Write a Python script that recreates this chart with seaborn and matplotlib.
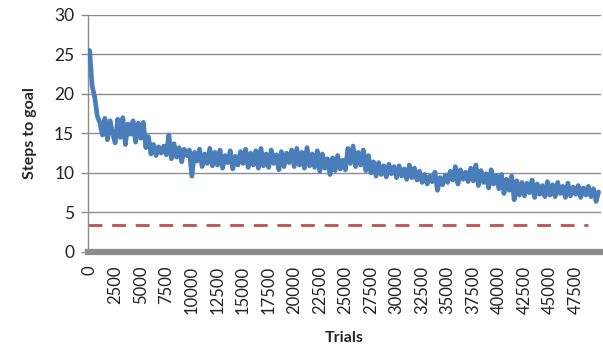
import matplotlib
matplotlib.use("Agg")
import matplotlib.pyplot as plt
import seaborn as sns
import numpy as np
import pandas as pd

# Steps to goal, one value per 250 trials
steps = [
    25.5, 21.0, 19.6, 17.2, 16.4, 14.8, 16.9, 14.2, 16.6, 15.0,
    13.8, 16.8, 14.5, 17.0, 13.6, 16.2, 14.9, 16.6, 13.9, 16.3,
    14.4, 16.4, 13.2, 14.6, 12.4, 13.6, 12.2, 13.3, 12.5, 13.4,
    12.3, 14.8, 11.8, 13.7, 12.0, 13.2, 11.4, 13.0, 12.2, 12.9,
    9.6, 12.6, 11.5, 13.0, 10.8, 12.4, 11.2, 13.1, 10.9, 12.6,
    11.0, 12.9, 10.6, 12.2, 11.3, 12.8, 10.5, 12.1, 11.0, 12.7,
    11.2, 13.0, 10.7, 12.5, 11.0, 12.8, 10.6, 13.1, 10.9, 12.4,
    10.7, 12.9, 11.2, 12.3, 10.4, 12.7, 10.8, 12.5, 11.3, 12.9,
    10.8, 13.1, 11.0, 12.6, 10.6, 13.2, 10.9, 12.4, 10.7, 12.8,
    10.2, 12.4, 10.6, 11.8, 9.8, 11.9, 10.3, 12.2, 10.5, 11.6,
    10.4, 13.1, 11.2, 13.4, 10.8, 12.6, 11.0, 12.9, 10.3, 12.2,
    10.0, 11.4, 9.6, 11.3, 9.8, 10.9, 9.5, 11.1, 9.9, 10.8,
    9.4, 10.9, 9.6, 10.5, 9.2, 11.0, 9.4, 10.6, 9.1, 10.2,
    8.8, 9.8, 8.6, 9.6, 8.9, 10.1, 7.8, 9.4, 8.5, 9.7,
    8.8, 10.2, 9.1, 10.8, 8.6, 10.4, 9.2, 10.1, 8.9, 10.6,
    9.0, 11.0, 8.4, 10.3, 8.8, 9.9, 8.1, 10.4, 8.6, 9.7,
    8.0, 9.8, 7.4, 9.2, 7.8, 9.6, 6.6, 9.0, 7.2, 8.8,
    7.1, 8.7, 7.5, 9.1, 6.9, 8.6, 7.3, 8.4, 7.0, 8.9,
    7.2, 8.5, 7.0, 8.8, 7.4, 8.3, 6.9, 8.7, 7.1, 8.2,
    7.3, 8.4, 6.9, 8.1, 7.2, 8.3, 7.0, 8.0, 6.4, 7.6,
]
trial_step = 250
trials = [i * trial_step for i in range(len(steps))]
optimal = 3.4
x_ticks = list(range(0, 50000, 2500))
y_ticks = [0, 5, 10, 15, 20, 25, 30]

df = pd.DataFrame({"Trials": trials, "Steps": steps})

sns.set_theme(style="white")
plt.rcParams["font.family"] = ["Lato", "DejaVu Sans"]

fig = plt.figure(figsize=(6.03, 3.47), dpi=100)
ax = fig.add_axes([0.146, 0.274, 0.851, 0.683])

for v in y_ticks[1:]:
    ax.axhline(v, color="#8c8c8c", lw=1.0, zorder=0)

ax.axhline(optimal, color="#C0504D", lw=2.0, ls=(0, (5, 3.5)), xmin=0.0, xmax=0.975, zorder=2)

sns.lineplot(data=df, x="Trials", y="Steps", ax=ax, color="#4A7EBB", lw=3.4, zorder=3)

ax.set_xlim(-150, 50000)
ax.set_ylim(0, 30)
ax.set_yticks(y_ticks)
ax.set_xticks(x_ticks)
ax.set_xticklabels([str(t) for t in x_ticks], rotation=90, fontsize=12, color="#222222")
ax.set_yticklabels([str(t) for t in y_ticks], fontsize=12.5, color="#222222")

for s in ["top", "right"]:
    ax.spines[s].set_visible(False)
ax.spines["left"].set_color("#8c8c8c")
ax.spines["left"].set_linewidth(1.0)
ax.spines["bottom"].set_color("#8c8c8c")
ax.spines["bottom"].set_linewidth(4.5)
ax.spines["bottom"].set_zorder(4)

ax.tick_params(axis="y", which="major", left=True, length=5, width=1, color="#8c8c8c", pad=5)
ax.tick_params(axis="x", which="major", bottom=False, pad=4)

ax.set_xlabel("Trials", fontsize=11.5, fontweight="bold", labelpad=12)
ax.set_ylabel("Steps to goal", fontsize=11.5, fontweight="bold", labelpad=12)

fig.savefig("out.png", dpi=100)
